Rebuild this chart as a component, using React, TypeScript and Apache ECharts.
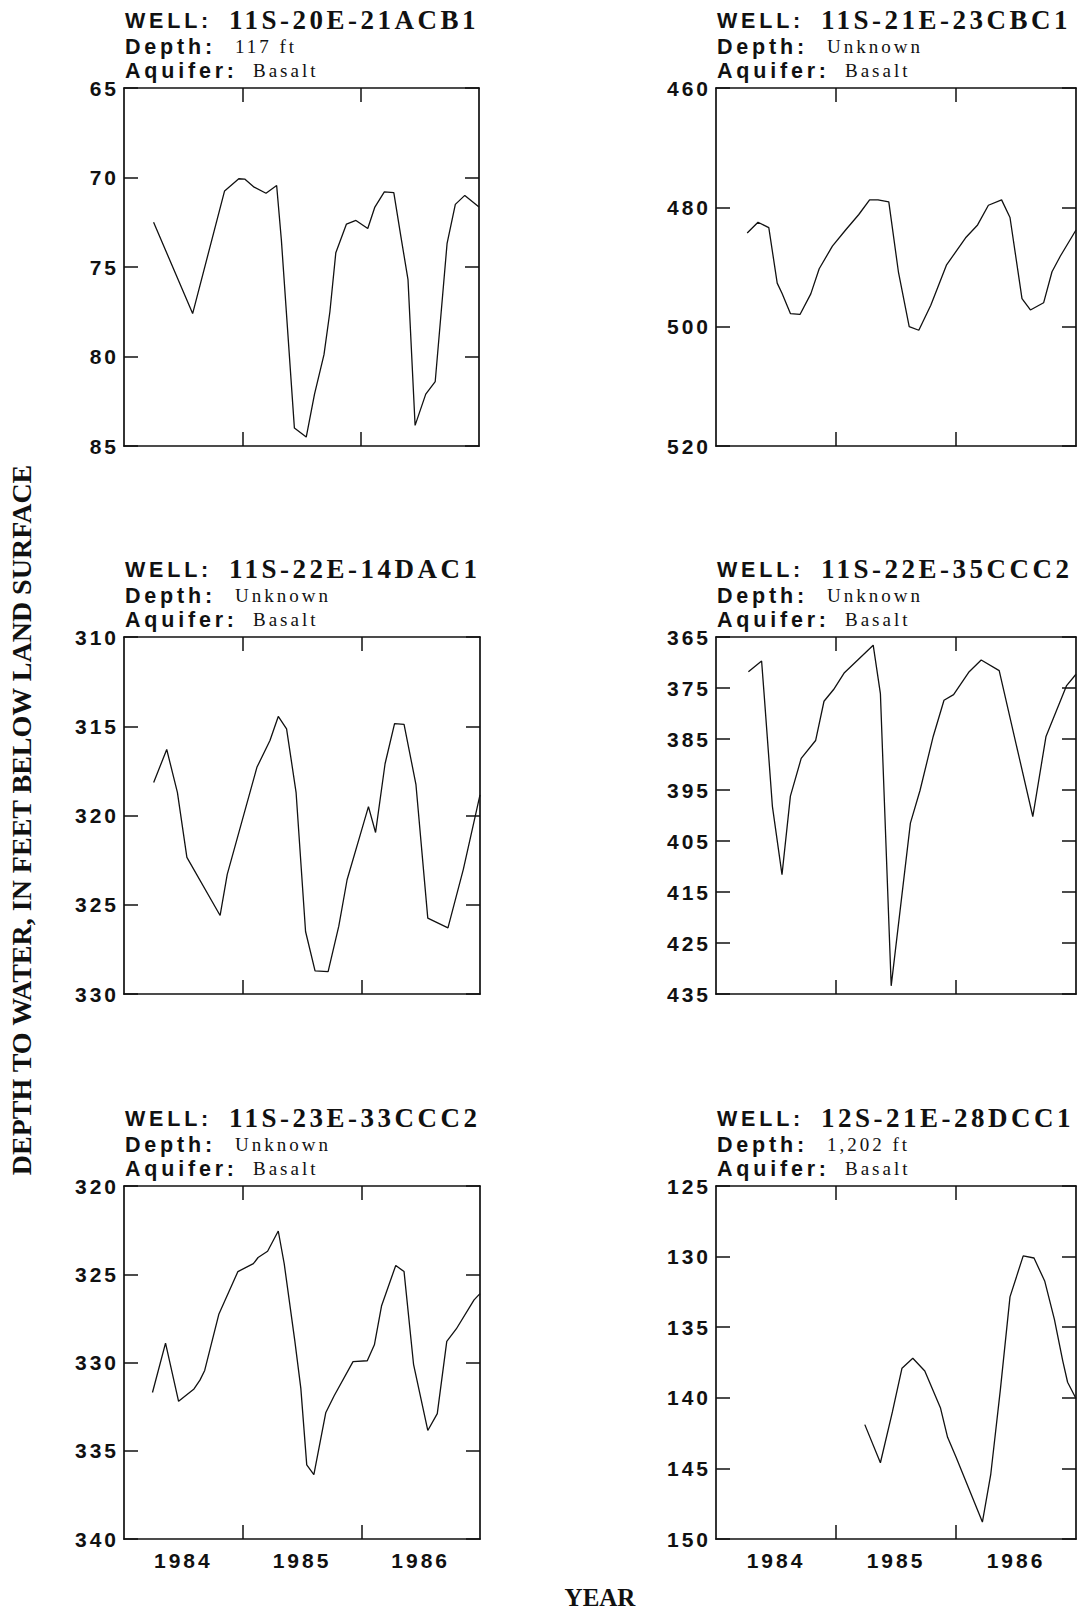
import React, { useEffect, useRef } from "react";
import * as echarts from "echarts";

// ---------- DATA ----------
const wellIds = [
  "11S-20E-21ACB1",
  "11S-21E-23CBC1",
  "11S-22E-14DAC1",
  "11S-22E-35CCC2",
  "11S-23E-33CCC2",
  "12S-21E-28DCC1",
];
const wellDepths = ["117 ft", "Unknown", "Unknown", "Unknown", "Unknown", "1,202 ft"];
const wellAquifers = ["Basalt", "Basalt", "Basalt", "Basalt", "Basalt", "Basalt"];

const yearLabelValues = [1984.5, 1985.5, 1986.5];
const yearTickValues = [1985, 1986];

const yTicks1 = [65, 70, 75, 80, 85];
const yTicks2 = [460, 480, 500, 520];
const yTicks3 = [310, 315, 320, 325, 330];
const yTicks4 = [365, 375, 385, 395, 405, 415, 425, 435];
const yTicks5 = [320, 325, 330, 335, 340];
const yTicks6 = [125, 130, 135, 140, 145, 150];

const w1Years = [1984.25, 1984.58, 1984.85, 1984.97, 1985.02, 1985.1, 1985.2, 1985.29, 1985.33, 1985.44, 1985.54, 1985.61, 1985.69, 1985.74, 1985.79, 1985.88, 1985.96, 1986.06, 1986.12, 1986.2, 1986.28, 1986.34, 1986.4, 1986.46, 1986.55, 1986.63, 1986.73, 1986.8, 1986.88, 1987.0];
const w1Depth = [72.5, 77.6, 70.75, 70.07, 70.09, 70.54, 70.88, 70.45, 73.5, 84.0, 84.5, 82.1, 79.9, 77.5, 74.2, 72.6, 72.4, 72.85, 71.65, 70.8, 70.85, 73.3, 75.7, 83.85, 82.1, 81.4, 73.7, 71.5, 71.0, 71.65];

const w2Years = [1984.26, 1984.35, 1984.44, 1984.51, 1984.55, 1984.62, 1984.7, 1984.79, 1984.86, 1984.97, 1985.08, 1985.19, 1985.28, 1985.35, 1985.44, 1985.52, 1985.61, 1985.69, 1985.79, 1985.92, 1986.08, 1986.18, 1986.27, 1986.38, 1986.45, 1986.55, 1986.62, 1986.73, 1986.8, 1986.87, 1987.0];
const w2Depth = [484.3, 482.5, 483.4, 492.7, 494.4, 497.8, 497.95, 494.5, 490.3, 486.5, 483.8, 481.2, 478.75, 478.75, 479.1, 490.8, 500.0, 500.6, 496.4, 489.7, 485.1, 482.95, 479.65, 478.75, 481.7, 495.3, 497.2, 496.0, 490.8, 488.15, 483.8];

const w3Years = [1984.25, 1984.36, 1984.45, 1984.53, 1984.81, 1984.87, 1985.12, 1985.23, 1985.3, 1985.37, 1985.45, 1985.53, 1985.61, 1985.72, 1985.81, 1985.88, 1985.99, 1986.06, 1986.12, 1986.2, 1986.28, 1986.36, 1986.46, 1986.56, 1986.73, 1986.86, 1987.0];
const w3Depth = [318.15, 316.3, 318.7, 322.35, 325.6, 323.3, 317.3, 315.8, 314.45, 315.15, 318.7, 326.5, 328.7, 328.75, 326.2, 323.6, 321.1, 319.5, 320.95, 317.1, 314.85, 314.9, 318.25, 325.75, 326.3, 323.0, 318.85];

const w4Years = [1984.27, 1984.38, 1984.4, 1984.47, 1984.55, 1984.62, 1984.71, 1984.83, 1984.9, 1984.98, 1985.07, 1985.31, 1985.37, 1985.46, 1985.62, 1985.7, 1985.81, 1985.9, 1985.98, 1986.11, 1986.21, 1986.36, 1986.64, 1986.75, 1986.92, 1987.0];
const w4Depth = [371.8, 369.7, 375.9, 398.2, 411.6, 396.2, 388.8, 385.3, 377.6, 375.3, 372.0, 366.6, 376.1, 433.4, 401.5, 395.1, 384.5, 377.4, 376.3, 371.8, 369.5, 371.6, 400.2, 384.5, 374.6, 372.3];

const w5Years = [1984.24, 1984.35, 1984.46, 1984.59, 1984.64, 1984.68, 1984.8, 1984.96, 1985.09, 1985.13, 1985.21, 1985.3, 1985.35, 1985.44, 1985.49, 1985.54, 1985.6, 1985.7, 1985.77, 1985.93, 1986.05, 1986.11, 1986.17, 1986.29, 1986.36, 1986.44, 1986.56, 1986.64, 1986.72, 1986.8, 1986.95, 1987.0];
const w5Depth = [331.7, 328.9, 332.2, 331.5, 331.0, 330.45, 327.25, 324.85, 324.4, 324.05, 323.7, 322.55, 324.4, 328.8, 331.45, 335.8, 336.35, 332.85, 331.9, 329.95, 329.9, 329.0, 326.8, 324.5, 324.85, 330.1, 333.85, 332.9, 328.8, 328.1, 326.45, 326.1];

const w6Years = [1985.24, 1985.37, 1985.47, 1985.55, 1985.64, 1985.74, 1985.87, 1985.93, 1986.0, 1986.22, 1986.29, 1986.37, 1986.45, 1986.56, 1986.65, 1986.74, 1986.82, 1986.89, 1986.93, 1987.0];
const w6Depth = [141.9, 144.6, 141.0, 137.9, 137.2, 138.1, 140.7, 142.8, 144.2, 148.8, 145.4, 139.4, 132.85, 129.95, 130.1, 131.75, 134.45, 137.4, 138.9, 140.05];

const panelYears = [w1Years, w2Years, w3Years, w4Years, w5Years, w6Years];
const panelDepths = [w1Depth, w2Depth, w3Depth, w4Depth, w5Depth, w6Depth];
const panelTicks = [yTicks1, yTicks2, yTicks3, yTicks4, yTicks5, yTicks6];

// ---------- LAYOUT ----------
const grids = [
  { left: 124, top: 88, width: 355, height: 358 },
  { left: 716, top: 88, width: 360, height: 358 },
  { left: 124, top: 637, width: 356, height: 357 },
  { left: 716, top: 637, width: 360, height: 357 },
  { left: 124, top: 1186, width: 356, height: 353 },
  { left: 716, top: 1186, width: 360, height: 353 },
];

const SANS = "Liberation Sans";
const SERIF = "Liberation Serif";
const INK = "#111";

export default function App() {
  const ref = useRef<HTMLDivElement>(null);

  useEffect(() => {
    if (!ref.current) return;
    const chart = echarts.init(ref.current, undefined, { renderer: "svg" });

    const xAxes: any[] = [];
    const yAxes: any[] = [];
    const series: any[] = [];
    const graphics: any[] = [];

    grids.forEach((g, i) => {
      const ticks = panelTicks[i];
      const showYear = i >= 4;
      const lineStyle = { color: INK, width: 1.7 };
      const tickCfg = (vals: number[]) => ({
        show: true,
        inside: true,
        length: 14,
        customValues: vals,
        lineStyle: { color: INK, width: 1.5 },
      });
      ["bottom", "top"].forEach((pos) => {
        xAxes.push({
          type: "value",
          gridIndex: i,
          position: pos,
          min: 1984,
          max: 1987,
          axisLine: { show: true, onZero: false, lineStyle },
          splitLine: { show: false },
          axisTick: tickCfg(yearTickValues),
          axisLabel: {
            show: pos === "bottom" && showYear,
            customValues: yearLabelValues,
            formatter: (v: number) => String(Math.floor(v)),
            margin: 11,
            color: INK,
            fontFamily: SANS,
            fontWeight: "bold",
            fontSize: 21,
          },
        });
      });
      ["left", "right"].forEach((pos) => {
        yAxes.push({
          type: "value",
          gridIndex: i,
          position: pos,
          inverse: true,
          min: ticks[0],
          max: ticks[ticks.length - 1],
          axisLine: { show: true, onZero: false, lineStyle },
          splitLine: { show: false },
          axisTick: tickCfg(ticks),
          axisLabel: {
            show: pos === "left",
            customValues: ticks,
            margin: 5,
            color: INK,
            fontFamily: SANS,
            fontWeight: "bold",
            fontSize: 21,
          },
        });
      });
      series.push({
        type: "line",
        xAxisIndex: 2 * i,
        yAxisIndex: 2 * i,
        symbol: "none",
        clip: true,
        lineStyle: { color: INK, width: 1.3 },
        data: panelYears[i].map((yr, k) => [yr, panelDepths[i][k]]),
      });

      const L = g.left + 1;
      const T = g.top;
      const keyStyle = { fill: INK, font: `bold 21.5px ${SANS}`, textVerticalAlign: "middle", textAlign: "left" };
      const valStyle = { fill: INK, font: `19px ${SERIF}`, textVerticalAlign: "middle", textAlign: "left" };
      graphics.push(
        { type: "text", x: L, y: T - 67, style: { ...keyStyle, text: "WELL:" } },
        { type: "text", x: L + 104, y: T - 68, style: { fill: INK, font: `bold 27px ${SERIF}`, text: wellIds[i], textVerticalAlign: "middle", textAlign: "left" } },
        { type: "text", x: L, y: T - 41, style: { ...keyStyle, text: "Depth:" } },
        { type: "text", x: L + 110, y: T - 42, style: { ...valStyle, text: wellDepths[i] } },
        { type: "text", x: L, y: T - 17, style: { ...keyStyle, text: "Aquifer:" } },
        { type: "text", x: L + 128, y: T - 18, style: { ...valStyle, text: wellAquifers[i] } }
      );
    });

    graphics.push(
      {
        type: "text",
        x: 21,
        y: 820,
        rotation: Math.PI / 2,
        style: {
          text: "DEPTH TO WATER, IN FEET BELOW LAND SURFACE",
          fill: INK,
          font: `bold 28px ${SERIF}`,
          textAlign: "center",
          textVerticalAlign: "middle",
        },
      },
      {
        type: "text",
        x: 600,
        y: 1597,
        style: {
          text: "YEAR",
          fill: INK,
          font: `bold 25px ${SERIF}`,
          textAlign: "center",
          textVerticalAlign: "middle",
        },
      }
    );

    chart.setOption({
      animation: false,
      backgroundColor: "#fff",
      grid: grids.map((g) => ({ ...g, containLabel: false })),
      xAxis: xAxes,
      yAxis: yAxes,
      series,
      graphic: graphics,
    });

    return () => chart.dispose();
  }, []);

  return (
    <>
      <style>{`
        body { margin: 0; }
        #wellchart text[style*="Liberation Sans"] { letter-spacing: 3px; }
        #wellchart text[style*="21.5px"][style*="Liberation Sans"] { letter-spacing: 3.8px; }
        #wellchart text[style*="27px"][style*="Liberation Serif"] { letter-spacing: 3.5px; }
        #wellchart text[style*="19px"][style*="Liberation Serif"] { letter-spacing: 3px; }
      `}</style>
      <div
        id="wellchart"
        ref={ref}
        style={{ position: "absolute", left: 0, top: 0, width: 1078, height: 1612, background: "#fff" }}
      />
    </>
  );
}
